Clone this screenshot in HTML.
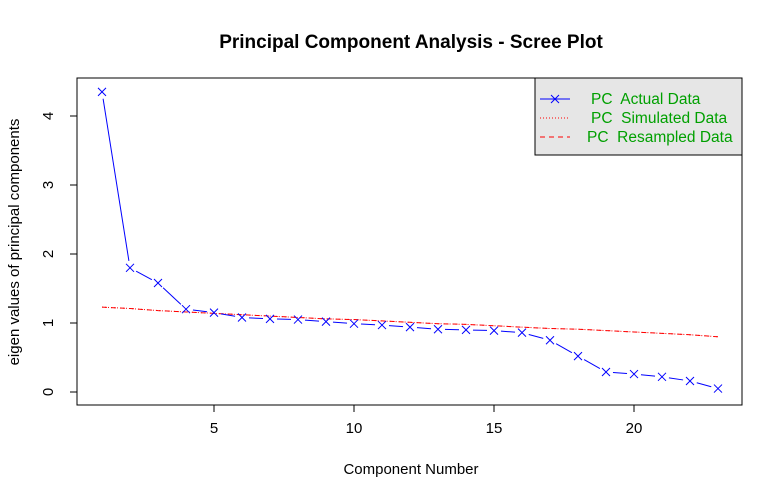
<!DOCTYPE html>
<html><head><meta charset="utf-8"><style>
body{margin:0;background:#fff;}
svg text{font-family:"Liberation Sans",Arial,sans-serif;white-space:pre;}
</style></head><body>
<svg width="784" height="499" xmlns="http://www.w3.org/2000/svg">
<rect width="784" height="499" fill="#fff"/>
<text x="411" y="48" text-anchor="middle" font-size="19" font-weight="bold">Principal Component Analysis - Scree Plot</text>
<rect x="77" y="78" width="665" height="327" fill="none" stroke="#000"/>
<g id="xaxis"></g>
<g id="yaxis"></g>
<text x="411" y="474" text-anchor="middle" font-size="15">Component Number</text>
<text transform="translate(19,242) rotate(-90)" text-anchor="middle" font-size="15">eigen values of principal components</text>
<g id="series"></g>
<g>
<rect x="535" y="78" width="207" height="77" fill="#e6e6e6" stroke="#000"/>
<line x1="540" y1="99" x2="570" y2="99" stroke="#00f"/>
<path d="M551,95L559,103M551,103L559,95" stroke="#00f"/>
<line x1="540" y1="118" x2="570" y2="118" stroke="#f00" stroke-dasharray="1,2"/>
<line x1="540" y1="137" x2="570" y2="137" stroke="#f00" stroke-dasharray="5,4"/>
<text x="591" y="104" font-size="15.5" fill="#00a000">PC  Actual Data</text>
<text x="591" y="123" font-size="15.5" fill="#00a000">PC  Simulated Data</text>
<text x="587" y="142" font-size="15.5" fill="#00a000">PC  Resampled Data</text>
</g>
</svg>
<script>
const components=[1,2,3,4,5,6,7,8,9,10,11,12,13,14,15,16,17,18,19,20,21,22,23];
const actual=[4.35,1.80,1.58,1.20,1.15,1.08,1.06,1.05,1.02,0.99,0.97,0.94,0.91,0.90,0.89,0.86,0.75,0.52,0.29,0.26,0.22,0.16,0.05];
const simulated=[1.23,1.21,1.18,1.16,1.14,1.12,1.10,1.08,1.06,1.05,1.03,1.01,0.99,0.98,0.96,0.94,0.92,0.91,0.89,0.87,0.85,0.83,0.80];
const resampled=[1.23,1.21,1.18,1.16,1.14,1.12,1.10,1.08,1.06,1.05,1.03,1.01,0.99,0.98,0.96,0.94,0.92,0.91,0.89,0.87,0.85,0.83,0.80];
const xTicks=[5,10,15,20];
const yTicks=[0,1,2,3,4];
const NS="http://www.w3.org/2000/svg";
const X=v=>102+(v-1)*28;
const Y=v=>392-v*69;
function mk(t,a,p){const e=document.createElementNS(NS,t);for(const k in a)e.setAttribute(k,a[k]);p.appendChild(e);return e;}
const xa=document.getElementById('xaxis'),ya=document.getElementById('yaxis'),s=document.getElementById('series');
mk('line',{x1:X(xTicks[0]),x2:X(xTicks[xTicks.length-1]),y1:405,y2:405,stroke:'#000'},xa);
xTicks.forEach(t=>{mk('line',{x1:X(t),x2:X(t),y1:405,y2:412,stroke:'#000'},xa);
const tx=mk('text',{x:X(t),y:433,'text-anchor':'middle','font-size':15},xa);tx.textContent=t;

});
mk('line',{x1:77,x2:77,y1:Y(yTicks[0]),y2:Y(yTicks[yTicks.length-1]),stroke:'#000'},ya);
yTicks.forEach(t=>{mk('line',{x1:70,x2:77,y1:Y(t),y2:Y(t),stroke:'#000'},ya);
const tx=mk('text',{transform:`translate(53,${Y(t)}) rotate(-90)`,'text-anchor':'middle','font-size':15},ya);tx.textContent=t;

});
function pts(d){return d.map((v,i)=>X(components[i])+','+Y(v)).join(' ');}
const ls=mk('polyline',{points:pts(simulated),fill:'none',stroke:'#f00','stroke-dasharray':'1,2'},s);


const lr=mk('polyline',{points:pts(resampled),fill:'none',stroke:'#f00','stroke-dasharray':'5,4'},s);


for(let i=0;i<actual.length-1;i++){
const x1=X(components[i]),y1=Y(actual[i]),x2=X(components[i+1]),y2=Y(actual[i+1]);
const dx=x2-x1,dy=y2-y1,L=Math.hypot(dx,dy),g=7;
if(L<=2*g)continue;
const seg=mk('line',{x1:x1+dx*g/L,y1:y1+dy*g/L,x2:x2-dx*g/L,y2:y2-dy*g/L,stroke:'#00f'},s);

}
actual.forEach((v,i)=>{const cx=X(components[i]),cy=Y(v);
const p=mk('path',{d:`M${cx-4},${cy-4}L${cx+4},${cy+4}M${cx-4},${cy+4}L${cx+4},${cy-4}`,stroke:'#00f',fill:'none'},s);

});
</script>
</body></html>
